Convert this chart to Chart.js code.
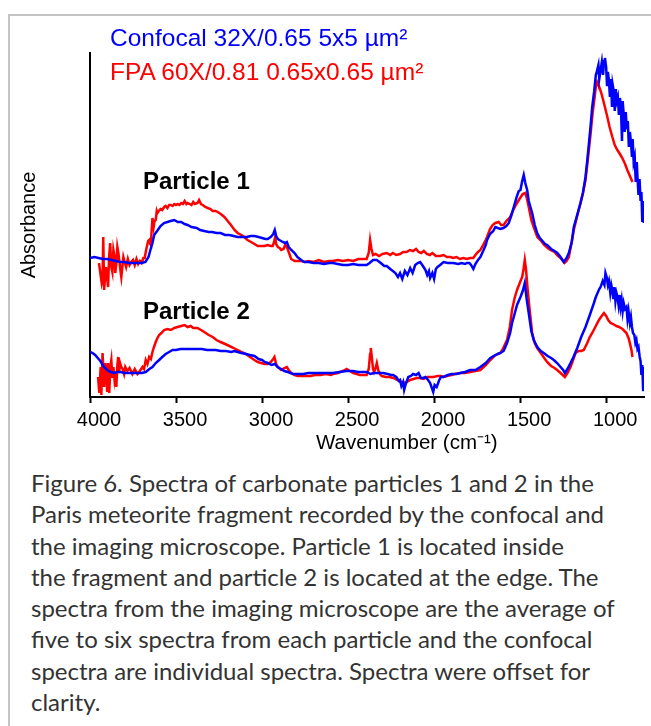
<!DOCTYPE html>
<html>
<head>
<meta charset="utf-8">
<script src="https://cdn.jsdelivr.net/npm/chart.js@4/dist/chart.umd.min.js"></script>
<style>
  html, body { margin: 0; padding: 0; background: #fff; width: 651px; height: 726px; overflow: hidden; }
  #frame { position: absolute; left: 8px; top: 14px; width: 700px; height: 760px;
           border-left: 2px solid #c4c4c4; border-top: 2px solid #c4c4c4; }
  #wrap { position: absolute; left: 0; top: 0; width: 651px; height: 460px; }
  .leg { position: absolute; left: 110px; font-family: "Liberation Sans", Arial, sans-serif;
         font-size: 24.5px; line-height: 28px; white-space: nowrap; }
  .plab { position: absolute; left: 143px; font-family: "Liberation Sans", Arial, sans-serif;
          font-weight: bold; font-size: 24px; line-height: 24px; color: #000; white-space: nowrap; }
  #xtitle { position: absolute; left: 316px; top: 430px; font-family: "Liberation Sans", Arial, sans-serif;
            font-size: 20.5px; line-height: 24px; color: #000; white-space: nowrap; }
  #caption { position: absolute; left: 31px; top: 467px; font-family: Lato, "Open Sans", sans-serif;
             font-size: 24px; line-height: 31.3px; color: #333; white-space: nowrap; }
</style>
</head>
<body>
<div id="frame"></div>
<div id="wrap"><canvas id="c" width="651" height="460"></canvas></div>
<div class="leg" style="top:24px;color:#0000ff">Confocal 32X/0.65 5x5 µm²</div>
<div class="leg" style="top:58px;color:#ff0000">FPA 60X/0.81 0.65x0.65 µm²</div>
<div class="plab" style="top:169px">Particle 1</div>
<div class="plab" style="top:299px">Particle 2</div>
<div id="xtitle">Wavenumber (cm⁻¹)</div>
<div id="caption">Figure 6. Spectra of carbonate particles 1 and 2 in the<br>Paris meteorite fragment recorded by the confocal and<br>the imaging microscope. Particle 1 is located inside<br>the fragment and particle 2 is located at the edge. The<br>spectra from the imaging microscope are the average of<br>five to six spectra from each particle and the confocal<br>spectra are individual spectra. Spectra were offset for<br>clarity.</div>
<script>
// Tick values of the wavenumber axis
const xTickValues = [4000, 3500, 3000, 2500, 2000, 1500, 1000];

// Particle 1, confocal (blue) — wavenumber (cm-1) and absorbance (arbitrary, offset)
const p1ConfocalWn = [4000,3975,3950,3925,3900,3875,3850,3825,3800,3775,3750,3724,3700,3678,3660,3649,3637,3627,3610,3590,3570,3550,3532,3510,3490,3470,3450,3433,3410,3380,3360,3336,3310,3290,3265,3241,3215,3190,3165,3142,3120,3090,3065,3044,3020,3000,2980,2967,2950,2935,2926,2918,2908,2899,2880,2866,2856,2845,2830,2811,2795,2780,2765,2753,2730,2700,2670,2640,2610,2588,2560,2530,2500,2470,2440,2410,2392,2375,2355,2333,2310,2290,2275,2255,2240,2225,2210,2198,2185,2170,2155,2139,2125,2110,2095,2081,2065,2050,2040,2030,2023,2010,2000,1990,1980,1965,1945,1920,1900,1889,1860,1840,1820,1809,1795,1785,1772,1760,1745,1731,1715,1700,1692,1675,1656,1644,1630,1615,1597,1580,1566,1552,1537,1520,1508,1498,1488,1479,1470,1459,1450,1440,1430,1415,1401,1385,1370,1355,1343,1320,1300,1284,1265,1246,1230,1217,1200,1188,1170,1149,1135,1120,1110,1100,1090,1081,1070,1060,1056,1045,1040,1032,1025,1018,1012,1007,1000,995,990,984,978,972,966,962,955,950,944,938,932,926,920,914,908,904,898,892,886,880,874,868,862,856,850,846,840,834,828,822,818,812,806,800,795,790,785,781];
const p1ConfocalAbs = [139,140,139,138,138,137,136,135,135,134,134,134,134,135,140,147,154,162,166,171,174,175,176,177,175,175,173,172,170,169,167,166,165,165,164,164,162,162,161,160,160,160,161,161,160,159,158,158,160,163,167,161,158,157,155,154,155,150,147,144,140,138,136,135,135,134,134,133,134,134,133,132,132,133,132,132,132,134,137,137,134,131,131,128,126,124,120,124,118,126,122,129,124,132,134,135,131,127,122,126,119,124,118,128,130,132,135,134,134,134,133,134,133,134,134,132,128,133,137,140,146,152,157,163,166,170,169,168,169,171,174,181,190,200,206,207,216,222,214,207,196,190,184,172,164,159,156,153,152,148,146,144,140,135,139,144,155,170,181,194,204,220,236,254,272,290,305,322,324,332,318,327,335,322,336,339,330,312,325,317,300,318,290,312,305,286,308,296,300,282,299,290,256,296,283,265,285,268,276,250,265,255,240,258,235,240,215,235,220,202,218,196,205,175,196,174];

// Particle 1, FPA imaging (red)
const p1FpaWn = [3948,3940,3932,3927,3923,3918,3912,3907,3900,3895,3889,3883,3876,3870,3864,3858,3853,3846,3841,3835,3828,3822,3818,3812,3806,3800,3790,3780,3770,3760,3750,3740,3730,3720,3710,3700,3690,3682,3676,3670,3662,3656,3650,3646,3642,3637,3630,3625,3618,3612,3608,3600,3590,3580,3569,3560,3550,3540,3530,3520,3510,3500,3491,3480,3470,3460,3450,3440,3433,3420,3410,3400,3390,3375,3366,3355,3345,3330,3316,3300,3287,3270,3258,3240,3219,3200,3181,3160,3142,3120,3103,3085,3064,3044,3025,3005,2985,2967,2950,2938,2930,2924,2918,2908,2898,2889,2875,2866,2856,2845,2831,2810,2792,2770,2753,2730,2700,2670,2640,2610,2588,2560,2530,2500,2470,2440,2410,2392,2380,2372,2364,2355,2340,2320,2300,2275,2255,2240,2220,2198,2180,2160,2140,2122,2105,2090,2075,2060,2042,2025,2010,1990,1965,1945,1925,1905,1889,1870,1850,1830,1809,1790,1772,1760,1745,1731,1712,1700,1692,1675,1660,1644,1625,1610,1596,1580,1558,1540,1518,1500,1485,1470,1460,1450,1435,1421,1400,1382,1360,1340,1324,1300,1285,1265,1242,1230,1217,1200,1188,1170,1149,1135,1120,1105,1090,1078,1067,1060,1052,1040,1030,1022,1010,993,980,964,950,935,920,906,890,877,862,847];
const p1FpaAbs = [134,124,114,118,160,107,120,130,118,110,140,154,130,125,147,141,124,135,150,144,134,125,120,130,140,136,130,138,132,135,137,132,138,133,136,134,139,139,145,150,156,157,153,152,166,179,170,176,177,186,184,186,188,187,190,191,189,192,192,191,193,192,193,192,194,193,196,193,194,193,192,195,193,194,197,193,192,190,189,188,186,186,185,183,180,176,172,167,164,162,160,157,155,153,151,151,151,152,151,151,155,160,153,150,149,147,148,152,150,145,138,136,136,136,135,136,135,137,135,136,136,137,136,137,136,138,138,138,144,157,148,142,143,141,143,144,142,144,142,143,145,145,147,146,148,145,144,146,143,142,144,141,141,142,140,140,139,140,138,139,138,139,139,142,145,147,153,157,160,168,172,174,175,172,172,176,180,187,194,199,203,204,198,190,177,170,160,157,152,149,147,145,142,139,134,136,140,155,167,180,194,204,217,240,264,285,300,310,315,310,305,300,292,280,270,260,252,247,243,239,233,227,221,215];

// Particle 2, confocal (blue)
const p2ConfocalWn = [4000,3985,3970,3955,3940,3919,3900,3880,3860,3840,3822,3800,3780,3760,3740,3724,3700,3676,3655,3637,3618,3598,3580,3560,3540,3520,3500,3474,3450,3433,3410,3375,3350,3320,3300,3270,3241,3210,3180,3160,3142,3120,3093,3070,3044,3020,3000,2985,2967,2945,2925,2910,2890,2870,2850,2820,2790,2760,2730,2700,2660,2620,2588,2550,2510,2472,2440,2410,2392,2370,2350,2330,2297,2270,2250,2238,2220,2205,2198,2190,2180,2174,2165,2150,2135,2122,2105,2090,2077,2064,2050,2035,2023,2015,2005,1997,1985,1970,1960,1947,1920,1900,1870,1848,1820,1790,1760,1731,1700,1673,1654,1630,1615,1596,1576,1558,1547,1537,1518,1498,1485,1473,1462,1450,1435,1421,1400,1380,1363,1340,1320,1304,1285,1265,1250,1240,1225,1207,1190,1168,1145,1120,1095,1071,1060,1050,1040,1032,1020,1010,1004,997,990,984,976,970,964,958,952,946,940,934,928,922,916,910,904,898,890,882,876,870,862,856,850,844,836,830,824,818,812,805,800,795,790,785,781];
const p2ConfocalAbs = [45,44,42,39,36,30,27,25,24,25,25,24,24,24,24,24,24,25,28,30,34,37,40,43,45,47,47,48,48,48,48,48,48,47,47,47,46,46,45,46,45,44,43,42,41,38,37,35,34,32,33,30,28,26,25,23,23,23,24,24,24,24,24,25,26,26,25,25,25,23,24,24,24,23,22,22,20,16,17,11,15,7,13,20,21,23,22,24,19,19,20,17,14,10,5,12,10,17,20,20,22,23,23,24,25,27,27,30,34,39,41,43,44,46,54,64,74,80,92,100,106,114,98,84,66,57,50,46,44,41,39,37,34,30,27,24,28,34,40,49,60,70,82,94,100,104,108,110,116,112,124,120,112,116,104,112,107,98,110,96,104,100,92,102,90,97,86,94,88,90,78,86,74,80,70,64,62,54,57,48,50,40,36,22,32,7,30];

// Particle 2, FPA imaging (red)
const p2FpaWn = [3953,3946,3938,3934,3927,3918,3912,3907,3900,3895,3888,3882,3876,3870,3864,3858,3853,3847,3841,3836,3831,3825,3818,3810,3802,3795,3783,3770,3754,3740,3724,3710,3695,3686,3676,3666,3656,3646,3637,3628,3618,3608,3598,3585,3569,3550,3530,3510,3491,3470,3450,3433,3415,3400,3375,3355,3336,3310,3287,3265,3241,3215,3190,3165,3142,3120,3093,3070,3044,3025,3006,2985,2967,2950,2935,2928,2918,2908,2889,2870,2856,2845,2831,2810,2792,2770,2753,2720,2690,2660,2630,2600,2588,2560,2530,2508,2490,2470,2450,2431,2410,2392,2380,2372,2368,2362,2355,2349,2340,2333,2325,2315,2304,2280,2260,2237,2215,2190,2175,2159,2140,2120,2100,2081,2060,2040,2020,2003,1980,1960,1945,1925,1900,1880,1848,1820,1790,1760,1731,1700,1673,1650,1630,1615,1600,1590,1576,1560,1547,1532,1518,1500,1488,1480,1473,1466,1456,1445,1430,1415,1401,1380,1360,1343,1320,1300,1285,1265,1240,1225,1207,1190,1178,1160,1145,1130,1110,1095,1081,1060,1042,1030,1013,1000,988,974,960,940,925,905,882,868,853,847];
const p2FpaAbs = [20,4,30,2,44,10,34,28,5,34,4,30,37,19,30,18,25,10,32,40,24,34,30,28,23,30,26,29,23,28,23,26,30,28,37,33,40,38,45,50,55,59,62,64,67,68,67,69,70,71,72,70,71,69,69,67,65,62,60,57,55,53,51,49,47,45,43,40,37,35,34,33,33,35,38,40,33,30,27,29,30,27,24,22,21,21,21,21,22,22,23,22,23,24,26,28,26,24,23,22,22,22,28,43,49,40,28,25,29,34,27,23,21,20,20,19,17,15,14,15,17,18,19,19,18,20,20,20,21,21,20,21,22,23,24,24,25,26,27,32,37,41,43,44,48,52,57,70,87,99,107,115,120,128,137,128,107,88,64,54,49,44,39,35,31,29,27,24,20,24,30,38,44,46,46,47,54,60,64,71,77,80,84,81,77,74,73,71,70,68,64,58,47,40];

const toPoints = (wn, ab) => wn.map((w, i) => ({ x: w, y: ab[i] }));
const BLUE = '#0000ff', RED = '#ff0000';
const lineDs = (label, wn, ab, color) => ({
  label, data: toPoints(wn, ab), borderColor: color, backgroundColor: color,
  borderWidth: 2.5, pointRadius: 0, tension: 0, fill: false
});

new Chart(document.getElementById('c'), {
  type: 'line',
  data: {
    datasets: [
      lineDs('Particle 1 – Confocal 32X/0.65 5x5 µm²', p1ConfocalWn, p1ConfocalAbs, BLUE),
      lineDs('Particle 2 – Confocal 32X/0.65 5x5 µm²', p2ConfocalWn, p2ConfocalAbs, BLUE),
      lineDs('Particle 1 – FPA 60X/0.81 0.65x0.65 µm²', p1FpaWn, p1FpaAbs, RED),
      lineDs('Particle 2 – FPA 60X/0.81 0.65x0.65 µm²', p2FpaWn, p2FpaAbs, RED)
    ]
  },
  options: {
    responsive: false,
    animation: false,
    devicePixelRatio: 1,
    layout: { padding: { left: 13, top: 53, right: 7, bottom: 0 } },
    plugins: { legend: { display: false }, tooltip: { enabled: false } },
    scales: {
      x: {
        type: 'linear', reverse: true, min: 780, max: 4000,
        afterFit: (s) => { s.height = 63; },
        afterBuildTicks: (s) => { s.ticks = xTickValues.map(v => ({ value: v })); },
        ticks: { color: '#000', padding: 5, labelOffset: 9, maxRotation: 0, autoSkip: false,
                 font: { family: '"Liberation Sans", Arial, sans-serif', size: 20 },
                 callback: (v) => String(v) },
        grid: { drawOnChartArea: false, drawTicks: true, tickLength: 6, tickWidth: 2, tickColor: '#000', color: '#000' },
        border: { display: true, color: '#000', width: 2 },
        title: { display: false }
      },
      y: {
        min: 0, max: 344,
        afterFit: (s) => { s.width = 77; },
        ticks: { display: false },
        grid: { display: false, drawTicks: false },
        border: { display: true, color: '#000', width: 2 },
        title: { display: true, text: 'Absorbance', color: '#000', padding: { top: 4, bottom: 4 },
                 font: { family: '"Liberation Sans", Arial, sans-serif', size: 20 } }
      }
    }
  }
});
</script>
</body>
</html>
